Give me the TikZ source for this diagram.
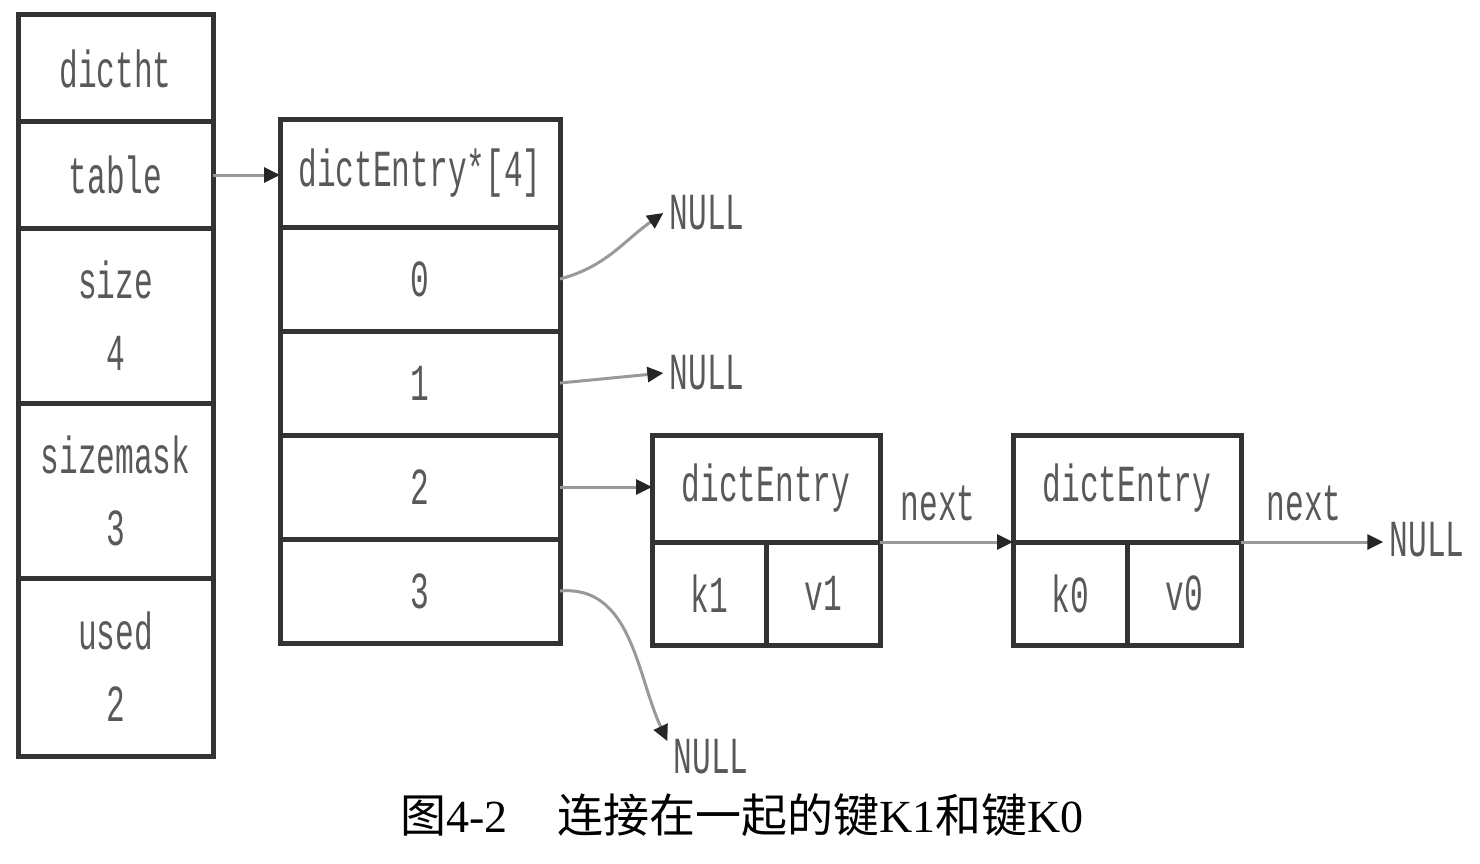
\documentclass[tikz,border=0pt]{standalone}
\usepackage{fontspec}
\setmainfont{Liberation Serif}
\newfontfamily\cjkfont{Noto Sans CJK SC}
\newfontfamily\codefont[FakeStretch=0.6]{Liberation Mono}
\usetikzlibrary{arrows.meta,positioning}

\begin{document}
\begin{tikzpicture}[x=1pt, y=-1pt,
    c/.style={draw=black!80, line width=5pt, outer sep=0pt, inner sep=0pt,
      align=center, text=black!65, font=\codefont\fontsize{52}{72}\selectfont},
    lbl/.style={inner sep=6pt, text=black!65, font=\codefont\fontsize{52}{60}\selectfont},
    ptr/.style={draw=black!40, line width=3pt,
      -{Triangle[length=16pt,width=15pt,color=black!85]}}]
  \useasboundingbox (0,0) rectangle (1480,864);
  % dictht
  \node[c, minimum width=195pt, minimum height=107pt] (dictht) at (115.5,68.5) {dictht};
  \node[c, minimum width=195pt, minimum height=106pt, below=0pt of dictht] (table) {table};
  \node[c, minimum width=195pt, minimum height=175pt, below=0pt of table] (size) {size\\4};
  \node[c, minimum width=195pt, minimum height=175pt, below=0pt of size] (mask) {sizemask\\3};
  \node[c, minimum width=195pt, minimum height=178pt, below=0pt of mask] (used) {used\\2};
  % table array
  \node[c, minimum width=280pt, minimum height=107pt] (arr) at (420,173.5) {dictEntry*[4]};
  \node[c, minimum width=280pt, minimum height=104pt, below=0pt of arr] (r0) {0};
  \node[c, minimum width=280pt, minimum height=104pt, below=0pt of r0] (r1) {1};
  \node[c, minimum width=280pt, minimum height=104pt, below=0pt of r1] (r2) {2};
  \node[c, minimum width=280pt, minimum height=104pt, below=0pt of r2] (r3) {3};
  % entries
  \node[c, minimum width=228pt, minimum height=107pt] (e1) at (766,488.5) {dictEntry};
  \node[c, minimum width=114pt, minimum height=103pt, below right=0pt and 0pt of e1.south west] (e1k) {k1};
  \node[c, minimum width=114pt, minimum height=103pt, right=0pt of e1k] (e1v) {v1};
  \node[c, minimum width=228pt, minimum height=107pt] (e2) at (1127,488.5) {dictEntry};
  \node[c, minimum width=114pt, minimum height=103pt, below right=0pt and 0pt of e2.south west] (e2k) {k0};
  \node[c, minimum width=114pt, minimum height=103pt, right=0pt of e2k] (e2v) {v0};
  % NULL and next labels
  \node[lbl] (n0) at (707,213) {NULL};
  \node[lbl] (n1) at (707,373) {NULL};
  \node[lbl] (n3) at (711,757) {NULL};
  \node[lbl] (n4) at (1427,540) {NULL};
  \node[lbl] (nx1) at (938,503) {next};
  \node[lbl] (nx2) at (1304,503) {next};
  % pointers
  \draw[ptr] (table.east) -- (table.east -| arr.west);
  \draw[ptr] (r0.east) to[out=15,in=-145] (n0.west);
  \draw[ptr] (r1.east) -- (n1.west);
  \draw[ptr] (r2.east) -- (r2.east -| e1.west);
  \draw[ptr] (r3.east) to[out=5,in=115] (n3.160);
  \draw[ptr] (e1v.north east) -- (e2k.north west);
  \draw[ptr] (e2v.north east) -- (e2v.north east -| n4.west);
  % caption
  \node[inner sep=0pt, font=\fontsize{46}{50}\selectfont] (cap) at (742,815)
    {{\cjkfont 图}4-2\hspace{50pt}{\cjkfont 连接在一起的键}K1{\cjkfont 和键}K0};
\end{tikzpicture}
\end{document}
